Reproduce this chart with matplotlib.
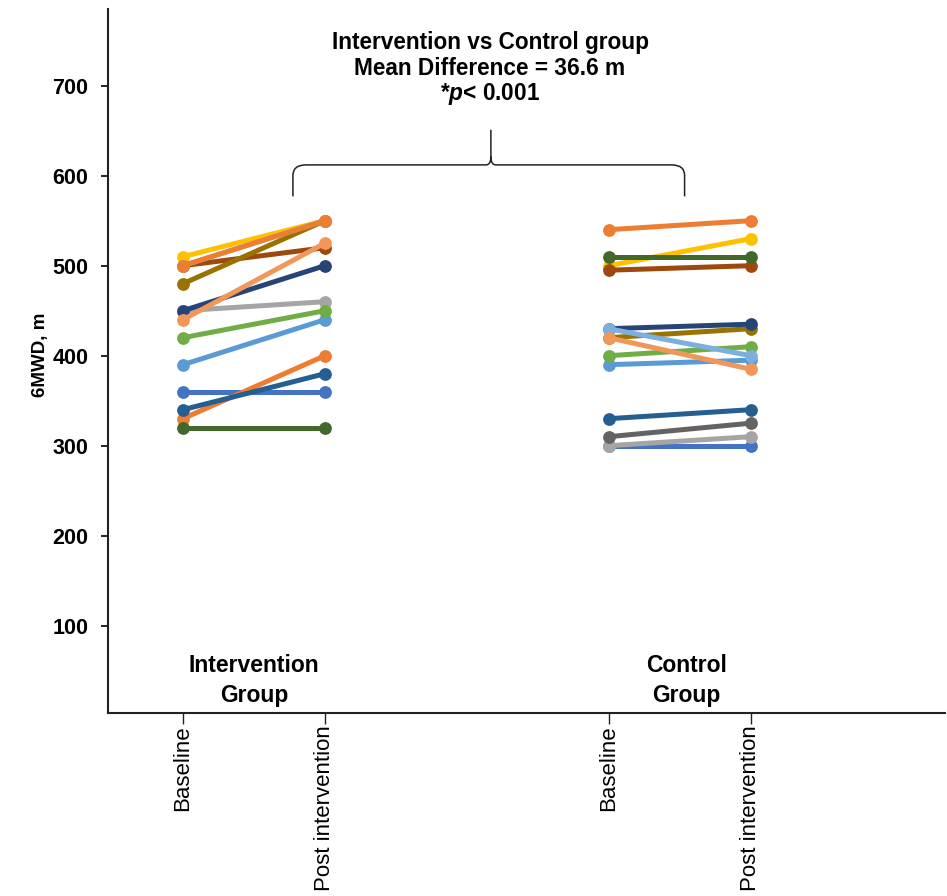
import matplotlib
matplotlib.use("Agg")
import matplotlib.pyplot as plt
from matplotlib.path import Path
from matplotlib.patches import PathPatch

plt.rcParams["font.family"] = ["Liberation Sans", "DejaVu Sans"]
plt.rcParams["mathtext.fontset"] = "custom"
plt.rcParams["mathtext.rm"] = "Liberation Sans:bold"
plt.rcParams["mathtext.it"] = "Liberation Sans:italic:bold"

# x categories
tick_labels = ["Baseline", "Post intervention", "Baseline", "Post intervention"]
tick_pos = [0, 1, 3, 4]

# intervention group, one line per patient (baseline -> post)
intv_colors = ["#4472C4", "#ED7D31", "#A5A5A5", "#FFC000", "#5B9BD5", "#70AD47", "#264478",
               "#9E480E", "#997300", "#255E91", "#43682B", "#7CAFDD", "#F1975A", "#ED7D31"]
intv_base = [360, 330, 450, 510, 390, 420, 450, 500, 480, 340, 320, 500, 440, 500]
intv_post = [360, 400, 460, 550, 440, 450, 500, 520, 550, 380, 320, 550, 525, 550]

# control group
ctrl_colors = ["#4472C4", "#ED7D31", "#A5A5A5", "#FFC000", "#5B9BD5", "#70AD47", "#997300",
               "#264478", "#9E480E", "#636363", "#255E91", "#43682B", "#7CAFDD", "#F1975A"]
ctrl_base = [300, 540, 300, 500, 390, 400, 420, 430, 495, 310, 330, 510, 430, 420]
ctrl_post = [300, 550, 310, 530, 395, 410, 430, 435, 500, 325, 340, 510, 400, 385]

fig = plt.figure(figsize=(9.47, 8.96), dpi=100)
ax = fig.add_axes([108 / 947, 183 / 896, 837 / 947, 703.8 / 896])

for c, b, p in zip(intv_colors, intv_base, intv_post):
    ax.plot(tick_pos[0:2], [b, p], color=c, lw=3.6, marker="o", ms=9.2, mew=0,
            solid_capstyle="butt")
for c, b, p in zip(ctrl_colors, ctrl_base, ctrl_post):
    ax.plot(tick_pos[2:4], [b, p], color=c, lw=3.6, marker="o", ms=9.2, mew=0,
            solid_capstyle="butt")

ax.set_xlim(-0.528, 5.37)
ax.set_ylim(3, 785)
ax.set_yticks(range(100, 800, 100))
ax.set_xticks(tick_pos)
ax.set_xticklabels(tick_labels, rotation=90, fontsize=16)
for lab in ax.get_yticklabels():
    lab.set_fontweight("bold")
    lab.set_fontsize(15.5)
ax.tick_params(axis="y", length=5, width=1.4, pad=9, color="#222222")
ax.tick_params(axis="x", length=8, width=1.0, pad=1, color="#222222")
for s in ["top", "right"]:
    ax.spines[s].set_visible(False)
for s in ["left", "bottom"]:
    ax.spines[s].set_linewidth(1.5)
    ax.spines[s].set_color("#222222")

fig.text(40 / 947, 1 - 355 / 896, "6MWD, m", rotation=90, ha="center", va="center",
         fontsize=13.5, fontweight="bold")

# group labels
ax.text(0.5, 39, "Intervention\nGroup", ha="center", va="center", fontsize=16.5,
        fontweight="bold", linespacing=1.35)
ax.text(3.55, 39, "Control\nGroup", ha="center", va="center", fontsize=16.5,
        fontweight="bold", linespacing=1.35)

# comparison text
cx = 490 / 947
fig.text(cx, 1 - 43 / 896, "Intervention vs Control group", ha="center", va="center",
         fontsize=16.3, fontweight="bold")
fig.text(cx, 1 - 68.5 / 896, "Mean Difference = 36.6 m", ha="center", va="center",
         fontsize=16.3, fontweight="bold")
fig.text(cx, 1 - 94 / 896, r"*$p$< 0.001", ha="center", va="center",
         fontsize=16.3, fontweight="bold")

# curly brace between groups
x0, x1, xc = 0.775, 3.535, 2.17
yh, ye, yt = 612, 577, 651
rx, ry = 0.09, 12
sx, sy = 0.035, 9
verts = [(x0, ye), (x0, yh - ry), (x0, yh), (x0 + rx, yh),
         (xc - sx, yh), (xc, yh), (xc, yh + sy), (xc, yt),
         (xc, yh + sy), (xc, yh), (xc + sx, yh),
         (x1 - rx, yh), (x1, yh), (x1, yh - ry), (x1, ye)]
codes = [Path.MOVETO, Path.LINETO, Path.CURVE3, Path.CURVE3,
         Path.LINETO, Path.CURVE3, Path.CURVE3, Path.LINETO,
         Path.MOVETO, Path.CURVE3, Path.CURVE3,
         Path.LINETO, Path.CURVE3, Path.CURVE3, Path.LINETO]
ax.add_patch(PathPatch(Path(verts, codes), fill=False, lw=1.1, color="#222222",
                       clip_on=False))

fig.savefig("out.png", dpi=100)
